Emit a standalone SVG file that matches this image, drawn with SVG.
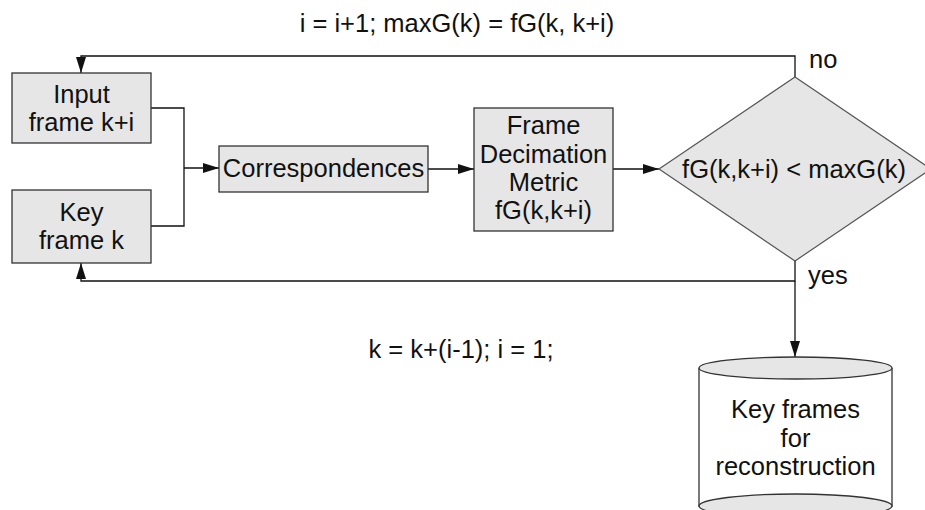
<svg xmlns="http://www.w3.org/2000/svg" width="925" height="510" viewBox="0 0 925 510">
<style>
  text { font-family: "Liberation Sans", Arial, sans-serif; font-size: 25.5px; fill: #111; }
  .c { text-anchor: middle; }
  .box { fill: #e6e6e6; stroke: #333; stroke-width: 1.3; }
  .dia { fill: #e6e6e6; stroke: #555; stroke-width: 1.2; }
  .ln { fill: none; stroke: #111; stroke-width: 1.3; }
</style>
<defs>
  <marker id="ah" viewBox="0 0 16 10" refX="16" refY="5" markerWidth="16" markerHeight="10" markerUnits="userSpaceOnUse" orient="auto">
    <path d="M0,0 L16,5 L0,10 Z" fill="#111"/>
  </marker>
</defs>
<rect width="925" height="510" fill="#fff"/>
<g id="connectors">
  <polyline class="ln" points="151,108 184,108 184,226 151,226"/>
  <line class="ln" x1="184" y1="168" x2="219" y2="168" marker-end="url(#ah)"/>
  <line class="ln" x1="428" y1="169" x2="474" y2="169" marker-end="url(#ah)"/>
  <line class="ln" x1="613" y1="169" x2="659" y2="169" marker-end="url(#ah)"/>
  <polyline class="ln" points="795,77 795,56 81,56 81,73" marker-end="url(#ah)"/>
  <polyline class="ln" points="795,261 795,281 81,281 81,263" marker-end="url(#ah)"/>
  <line class="ln" x1="795" y1="281" x2="795" y2="357" marker-end="url(#ah)"/>
  <text x="457" y="32" class="c">i = i+1; maxG(k) = fG(k, k+i)</text>
  <text x="809" y="68">no</text>
  <text x="808" y="284">yes</text>
  <text x="461" y="358" class="c">k = k+(i-1); i = 1;</text>
</g>
<g id="input">
  <rect class="box" x="12" y="73" width="139" height="70"/>
  <text x="81.5" y="103" class="c">Input</text>
  <text x="81.5" y="131" class="c">frame k+i</text>
</g>
<g id="key">
  <rect class="box" x="12" y="190" width="139" height="73"/>
  <text x="81.5" y="221" class="c">Key</text>
  <text x="81.5" y="249" class="c">frame k</text>
</g>
<g id="corr">
  <rect class="box" x="219" y="146" width="209" height="46"/>
  <text x="323.5" y="177" class="c">Correspondences</text>
</g>
<g id="fdm">
  <rect class="box" x="474" y="108" width="139" height="123"/>
  <text x="543.5" y="134" class="c">Frame</text>
  <text x="543.5" y="163" class="c">Decimation</text>
  <text x="543.5" y="191" class="c">Metric</text>
  <text x="543.5" y="219" class="c">fG(k,k+i)</text>
</g>
<g id="decision">
  <polygon class="dia" points="659,169 795,77 931,169 795,261"/>
  <text x="794" y="178" class="c">fG(k,k+i) &lt; maxG(k)</text>
</g>
<g id="store">
  <path d="M699,368 L699,506 L892,506 L892,368" fill="#fff" stroke="#333" stroke-width="1.3"/>
  <ellipse cx="795.5" cy="506" rx="96.5" ry="12" class="box"/>
  <ellipse cx="795.5" cy="368" rx="96.5" ry="11" class="box"/>
  <text x="795.5" y="418" class="c">Key frames</text>
  <text x="795.5" y="447" class="c">for</text>
  <text x="795.5" y="475" class="c">reconstruction</text>
</g>
</svg>
